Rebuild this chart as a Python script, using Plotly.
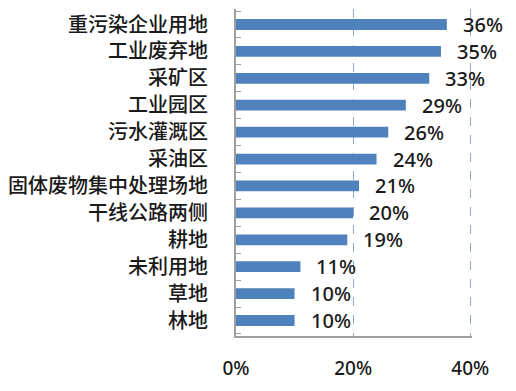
import plotly.graph_objects as go

categories = ["重污染企业用地", "工业废弃地", "采矿区", "工业园区", "污水灌溉区", "采油区",
              "固体废物集中处理场地", "干线公路两侧", "耕地", "未利用地", "草地", "林地"]
values = [36, 35, 33, 29, 26, 24, 21, 20, 19, 11, 10, 10]
value_labels = ["36%", "35%", "33%", "29%", "26%", "24%", "21%", "20%", "19%", "11%", "10%", "10%"]
x_ticks = [0, 20, 40]
x_tick_labels = ["0%", "20%", "40%"]

cats_rev = categories[::-1]
vals_rev = values[::-1]
labs_rev = value_labels[::-1]

fig = go.Figure(go.Bar(
    y=cats_rev, x=vals_rev, orientation="h",
    marker=dict(color="#4F81BD", line=dict(width=0)),
    hoverinfo="skip",
))

for c, v, t in zip(cats_rev, vals_rev, labs_rev):
    fig.add_annotation(x=v, y=c, text=t, showarrow=False, xanchor="left", xshift=14,
                       font=dict(family="Noto Sans, DejaVu Sans", size=20, color="#1a1a1a", weight=500))

fig.update_layout(
    width=516, height=391,
    margin=dict(l=224, r=52, t=0, b=63),
    paper_bgcolor="white", plot_bgcolor="white",
    bargap=0.6, showlegend=False,
    font=dict(family="Noto Sans CJK SC, Noto Sans", color="#1a1a1a"),
)
fig.update_xaxes(
    range=[0, 40.3], tickvals=x_ticks, ticktext=x_tick_labels,
    showgrid=True, gridcolor="#8EAAD2", griddash="dash", gridwidth=1.3,
    zeroline=False, showline=True, linecolor="#A0A0A0", linewidth=2,
    ticks="", ticklabelstandoff=14,
    tickfont=dict(family="Noto Sans, DejaVu Sans", size=19, color="#1a1a1a", weight=500),
    fixedrange=True,
)
fig.update_yaxes(
    showgrid=False, zeroline=False, showline=True, linecolor="#A0A0A0", linewidth=2,
    ticks="inside", tickson="boundaries", ticklen=5, tickcolor="#A0A0A0",
    ticklabelstandoff=22,
    tickfont=dict(family="Noto Sans CJK SC", size=20, color="#1a1a1a", weight=500),
    fixedrange=True,
)
fig.write_html("out.html")
